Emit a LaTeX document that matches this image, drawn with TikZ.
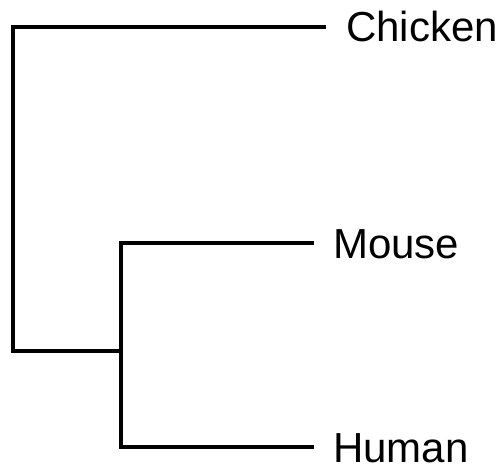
\documentclass[tikz,border=0pt]{standalone}
\usepackage{fontspec}
\setmainfont{Liberation Sans}
\begin{document}
\begin{tikzpicture}[x=1pt,y=-1pt,
  branch/.style={line width=4pt,line cap=rect,line join=miter},
  leaf/.style={anchor=base west,inner sep=0pt,font=\fontsize{42}{50}\selectfont}]
\useasboundingbox (0,0) rectangle (500,468);
\coordinate (root) at (13,351);
\coordinate (rootTop) at (13,27);
\coordinate (inner) at (121,351);
\coordinate (innerTop) at (121,243);
\coordinate (innerBot) at (121,447);
\coordinate (tipC) at (324,27);
\coordinate (tipM) at (312,243);
\coordinate (tipH) at (312,447);
\node[leaf] (chicken) at (346,42) {Chicken};
\node[leaf] (mouse) at (333,258) {Mouse};
\node[leaf] (human) at (333,462) {Human};
\draw[branch] (tipC) -- (rootTop) -- (root) -- (inner);
\draw[branch] (tipM) -- (innerTop) -- (innerBot) -- (tipH);
\end{tikzpicture}
\end{document}
